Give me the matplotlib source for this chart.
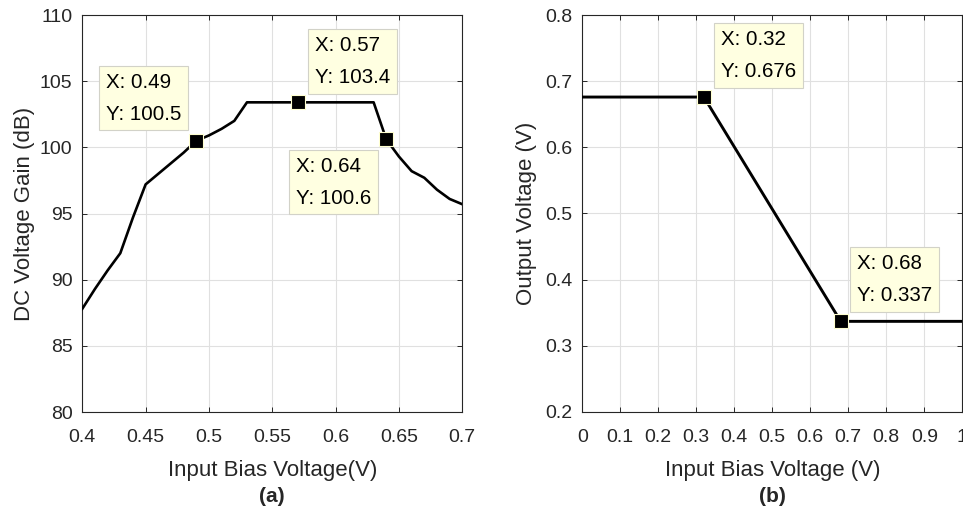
import matplotlib
matplotlib.use('Agg')
import matplotlib.pyplot as plt

# ---------------- data ----------------
# Panel (a): DC voltage gain vs input bias voltage
bias_a = [0.40, 0.41, 0.42, 0.43, 0.44, 0.45, 0.46, 0.47, 0.48, 0.49,
          0.50, 0.51, 0.52, 0.53, 0.54, 0.55, 0.56, 0.57, 0.58, 0.59,
          0.60, 0.61, 0.62, 0.63, 0.64, 0.65, 0.66, 0.67, 0.68, 0.69, 0.70]
gain_a = [87.8, 89.3, 90.7, 92.0, 94.7, 97.2, 98.0, 98.8, 99.6, 100.5,
          100.9, 101.4, 102.0, 103.4, 103.4, 103.4, 103.4, 103.4, 103.4, 103.4,
          103.4, 103.4, 103.4, 103.4, 100.6, 99.3, 98.2, 97.7, 96.8, 96.1, 95.7]
tips_a_x = [0.49, 0.57, 0.64]
tips_a_y = [100.5, 103.4, 100.6]
tips_a_txt = ["X: 0.49\nY: 100.5", "X: 0.57\nY: 103.4", "X: 0.64\nY: 100.6"]
xticks_a = [0.40, 0.45, 0.50, 0.55, 0.60, 0.65, 0.70]
xticklabels_a = ["0.4", "0.45", "0.5", "0.55", "0.6", "0.65", "0.7"]
yticks_a = [80, 85, 90, 95, 100, 105, 110]
yticklabels_a = ["80", "85", "90", "95", "100", "105", "110"]

# Panel (b): output voltage vs input bias voltage
bias_b = [0.0, 0.32, 0.68, 1.0]
vout_b = [0.676, 0.676, 0.337, 0.337]
tips_b_x = [0.32, 0.68]
tips_b_y = [0.676, 0.337]
tips_b_txt = ["X: 0.32\nY: 0.676", "X: 0.68\nY: 0.337"]
xticks_b = [0.0, 0.1, 0.2, 0.3, 0.4, 0.5, 0.6, 0.7, 0.8, 0.9, 1.0]
xticklabels_b = ["0", "0.1", "0.2", "0.3", "0.4", "0.5", "0.6", "0.7", "0.8", "0.9", "1"]
yticks_b = [0.2, 0.3, 0.4, 0.5, 0.6, 0.7, 0.8]
yticklabels_b = ["0.2", "0.3", "0.4", "0.5", "0.6", "0.7", "0.8"]

# ---------------- style ----------------
plt.rcParams['font.family'] = ['Liberation Sans', 'DejaVu Sans']
AXC = '#262626'
TIP_FACE = '#FFFFE1'
TIP_EDGE = '#D2D2C8'

fig = plt.figure(figsize=(9.63, 5.11), dpi=100)
ax_a = fig.add_axes([82.3 / 963, 99 / 511, 380 / 963, 397 / 511])
ax_b = fig.add_axes([582.3 / 963, 99 / 511, 380 / 963, 397 / 511])


def style_axes(ax):
    ax.grid(True, color='#E0E0E0', linewidth=0.8)
    ax.set_axisbelow(True)
    for s in ax.spines.values():
        s.set_color(AXC)
        s.set_linewidth(0.8)
    ax.tick_params(axis='both', direction='in', top=True, right=True,
                   length=3.5, width=0.7, color=AXC, labelcolor=AXC,
                   labelsize=14)
    ax.tick_params(axis='x', pad=12)
    ax.tick_params(axis='y', pad=7)


def add_tip(ax, x, y, txt, dx, dy):
    ax.plot([x], [y], marker='s', markersize=10.5, markerfacecolor='black',
            markeredgecolor='#FFFFD0', markeredgewidth=0.8, zorder=5)
    ax.annotate(txt, xy=(x, y), xytext=(dx, dy), textcoords='offset points',
                ha='left', va='top', fontsize=14.8, color='black',
                linespacing=1.85, zorder=6,
                bbox=dict(boxstyle='square,pad=0.33', facecolor=TIP_FACE,
                          edgecolor=TIP_EDGE, linewidth=0.8))


# ---- panel (a)
style_axes(ax_a)
ax_a.plot(bias_a, gain_a, color='black', linewidth=1.9, zorder=4)
ax_a.set_xlim(0.4, 0.7)
ax_a.set_ylim(80, 110)
ax_a.set_xticks(xticks_a)
ax_a.set_xticklabels(xticklabels_a)
ax_a.set_yticks(yticks_a)
ax_a.set_yticklabels(yticklabels_a)
ax_a.set_xlabel("Input Bias Voltage(V)", fontsize=16, color=AXC, labelpad=10)
ax_a.set_ylabel("DC Voltage Gain (dB)", fontsize=16, color=AXC, labelpad=3.5)
ax_a.text(0.5, -0.19, "(a)", transform=ax_a.transAxes, ha='center', va='top',
          fontsize=15, fontweight='bold', color=AXC)
offs_a = [(-65.0, 48.9), (12.4, 47.7), (-64.9, -12.5)]
for x, y, t, (dx, dy) in zip(tips_a_x, tips_a_y, tips_a_txt, offs_a):
    add_tip(ax_a, x, y, t, dx, dy)

# ---- panel (b)
style_axes(ax_b)
ax_b.plot(bias_b, vout_b, color='black', linewidth=2.1, zorder=4)
ax_b.set_xlim(0, 1)
ax_b.set_ylim(0.2, 0.8)
ax_b.set_xticks(xticks_b)
ax_b.set_xticklabels(xticklabels_b)
ax_b.set_yticks(yticks_b)
ax_b.set_yticklabels(yticklabels_b)
ax_b.set_xlabel("Input Bias Voltage (V)", fontsize=16, color=AXC, labelpad=10)
ax_b.set_ylabel("Output Voltage (V)", fontsize=16, color=AXC, labelpad=6)
ax_b.text(0.5, -0.19, "(b)", transform=ax_b.transAxes, ha='center', va='top',
          fontsize=15, fontweight='bold', color=AXC)
offs_b = [(12.2, 48.2), (11.6, 48.5)]
for x, y, t, (dx, dy) in zip(tips_b_x, tips_b_y, tips_b_txt, offs_b):
    add_tip(ax_b, x, y, t, dx, dy)

fig.savefig('out.png', dpi=100)
